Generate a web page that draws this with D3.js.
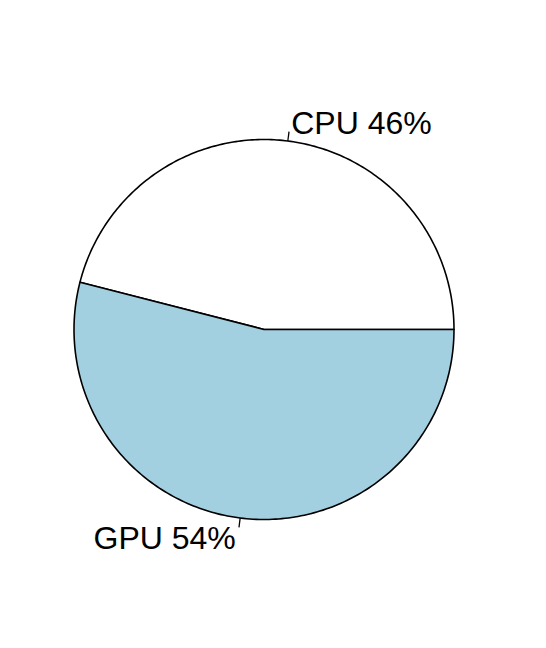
<!DOCTYPE html>
<html><head><meta charset="utf-8">
<script src="https://cdn.jsdelivr.net/npm/d3@7"></script>
<style>body{margin:0;background:#fff}</style>
</head><body>
<script>
const categories = ["CPU", "GPU"];
const values = [46, 54];
const colors = ["#ffffff", "#a2d0e1"];

const W = 546, H = 648, cx = 264, cy = 329.5, R = 190;
const svg = d3.select("body").append("svg").attr("width", W).attr("height", H);
const total = d3.sum(values);
// R-style pie: start at 3 o'clock, counterclockwise
const angle = d3.scaleLinear().domain([0, total]).range([0, 2 * Math.PI]);
let cum = 0;
const slices = values.map((v, i) => { const s = { i, a0: angle(cum), a1: angle(cum + v) }; cum += v; return s; });
const pt = (a, r) => [cx + r * Math.cos(a), cy - r * Math.sin(a)];
const g = svg.append("g");
slices.forEach(s => {
  const n = 200, pts = [[cx, cy]];
  for (let k = 0; k <= n; k++) pts.push(pt(s.a0 + (s.a1 - s.a0) * k / n, R));
  g.append("path").attr("d", d3.line()(pts) + "Z")
    .attr("fill", colors[s.i]).attr("stroke", "#000").attr("stroke-width", 1.6)
    .attr("stroke-linejoin", "round");
});
slices.forEach(s => {
  const m = (s.a0 + s.a1) / 2;
  const p1 = pt(m, R), p2 = pt(m, R * 1.05), p3 = pt(m, R * 1.1);
  g.append("line").attr("x1", p1[0]).attr("y1", p1[1]).attr("x2", p2[0]).attr("y2", p2[1])
    .attr("stroke", "#000").attr("stroke-width", 1.3);
  g.append("text").attr("x", p3[0] + (Math.cos(m) > 0 ? 1 : -2)).attr("y", p3[1] + 12)
    .attr("text-anchor", Math.cos(m) > 0 ? "start" : "end")
    .attr("font-family", "Liberation Sans, Arial, sans-serif").attr("font-size", 32)
    .attr("fill", "#000")
    .text(categories[s.i] + " " + values[s.i] + "%");
});
</script>
</body></html>
